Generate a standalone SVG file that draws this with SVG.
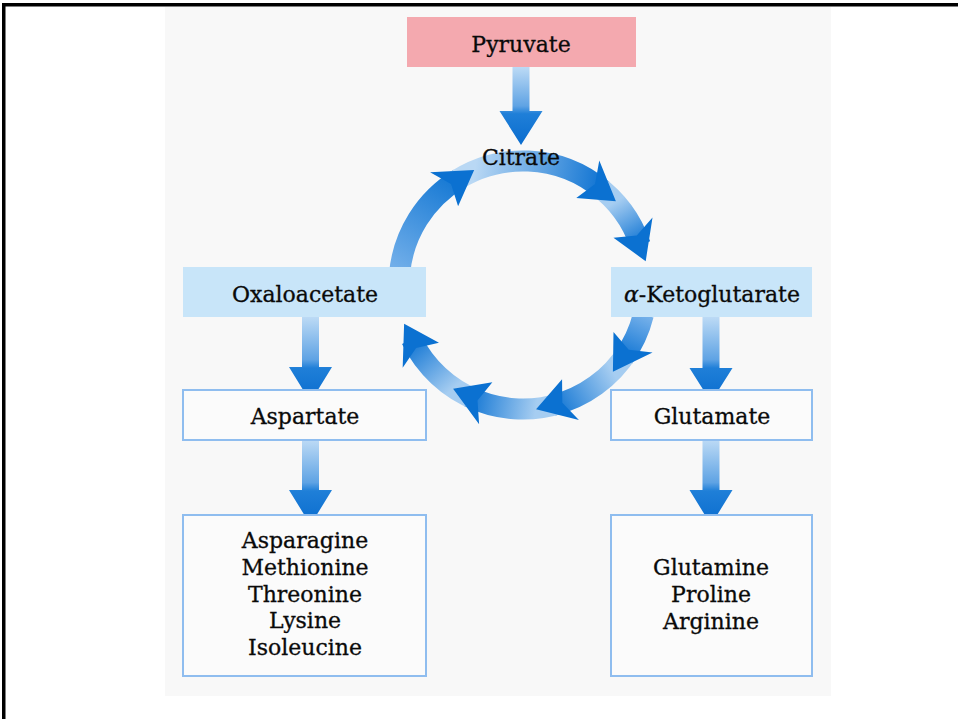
<svg xmlns="http://www.w3.org/2000/svg" xmlns:xlink="http://www.w3.org/1999/xlink" width="958" height="719" viewBox="0 0 958 719">
  <style>
    .lbl { font-family: "DejaVu Serif", "Liberation Serif", serif; font-size: 22px; fill: #0a0a0a; stroke: #0a0a0a; stroke-width: 0.3; text-anchor: middle; }
    .pink { fill: #f4a9af; }
    .cyan { fill: #c8e5f9; }
    .plain { fill: #fbfbfb; stroke: #8fbdef; stroke-width: 2; }
    .ring { fill: none; stroke-width: 21; }
    .head { fill: #0b71d1; }
  </style>
  <defs>
    <!-- vertical fade used by the straight arrows -->
    <linearGradient id="down" x1="0" y1="0" x2="0" y2="1">
      <stop offset="0" stop-color="#bcdaf5"/>
      <stop offset="0.5" stop-color="#5fa3e4"/>
      <stop offset="0.6" stop-color="#1f7fd8"/>
      <stop offset="1" stop-color="#0a6cce"/>
    </linearGradient>
    <!-- fades along each arc of the cycle, light at the start, dark at the arrowhead -->
    <linearGradient id="g1" gradientUnits="userSpaceOnUse" x1="399.5" y1="274.2" x2="459.1" y2="178.7">
      <stop offset="0" stop-color="#74b0ea"/><stop offset="1" stop-color="#1377d3"/>
    </linearGradient>
    <linearGradient id="g2" gradientUnits="userSpaceOnUse" x1="474.6" y1="170.9" x2="602.7" y2="190.0">
      <stop offset="0" stop-color="#b9d8f4"/><stop offset="1" stop-color="#0d72d2"/>
    </linearGradient>
    <linearGradient id="g3" gradientUnits="userSpaceOnUse" x1="615.1" y1="202.0" x2="640.2" y2="244.6">
      <stop offset="0" stop-color="#a6cdf1"/><stop offset="1" stop-color="#0f74d3"/>
    </linearGradient>
    <linearGradient id="g4" gradientUnits="userSpaceOnUse" x1="643.3" y1="315.0" x2="623.3" y2="357.9">
      <stop offset="0" stop-color="#74b0ea"/><stop offset="1" stop-color="#0f74d3"/>
    </linearGradient>
    <linearGradient id="g5" gradientUnits="userSpaceOnUse" x1="612.2" y1="371.1" x2="553.0" y2="405.3">
      <stop offset="0" stop-color="#a6cdf1"/><stop offset="1" stop-color="#0f74d3"/>
    </linearGradient>
    <linearGradient id="g6" gradientUnits="userSpaceOnUse" x1="536.0" y1="408.3" x2="468.6" y2="396.5">
      <stop offset="0" stop-color="#a6cdf1"/><stop offset="1" stop-color="#0f74d3"/>
    </linearGradient>
    <linearGradient id="g7" gradientUnits="userSpaceOnUse" x1="453.7" y1="387.8" x2="411.5" y2="339.4">
      <stop offset="0" stop-color="#a6cdf1"/><stop offset="1" stop-color="#0f74d3"/>
    </linearGradient>
    <!-- swept-back arrowhead on the cycle, drawn for angle 0 around centre (523,285) -->
    <polygon id="cyc-head" class="head" points="648,285 620.8,256 644.1,258.2 663,243.5"/>
  </defs>

  <!-- page frame -->
  <rect x="0" y="0" width="958" height="719" fill="#ffffff"/>
  <rect x="2" y="3" width="956" height="3.5" fill="#000000"/>
  <rect x="2" y="3" width="3.5" height="716" fill="#000000"/>

  <!-- figure panel -->
  <rect x="165" y="7" width="666" height="689" fill="#f8f8f8"/>

  <!-- connectors -->
  <g id="connectors">
    <g id="cycle">
      <path class="ring" stroke="url(#g1)" d="M399.5,274.2 A124,124 0 0 1 459.1,178.7"/>
      <path class="ring" stroke="url(#g2)" d="M451.9,183.4 A124,124 0 0 1 602.7,190.0"/>
      <path class="ring" stroke="url(#g3)" d="M595.9,184.7 A124,124 0 0 1 640.2,244.6"/>
      <path class="ring" stroke="url(#g4)" d="M643.3,315.0 A124,124 0 0 1 623.3,357.9"/>
      <path class="ring" stroke="url(#g5)" d="M628.2,350.7 A124,124 0 0 1 553.0,405.3"/>
      <path class="ring" stroke="url(#g6)" d="M561.3,402.9 A124,124 0 0 1 468.6,396.5"/>
      <path class="ring" stroke="url(#g7)" d="M476.5,400.0 A124,124 0 0 1 411.5,339.4"/>
      <use xlink:href="#cyc-head" transform="rotate(-113 523 285)"/>
      <use xlink:href="#cyc-head" transform="rotate(-42 523 285)"/>
      <use xlink:href="#cyc-head" transform="rotate(-11 523 285)"/>
      <use xlink:href="#cyc-head" transform="rotate(44 523 285)"/>
      <use xlink:href="#cyc-head" transform="rotate(84 523 285)"/>
      <use xlink:href="#cyc-head" transform="rotate(124 523 285)"/>
      <use xlink:href="#cyc-head" transform="rotate(162 523 285)"/>
    </g>
    <!-- straight arrows -->
    <path fill="url(#down)" d="M512.5,67 H529.5 V111 H542.5 L521,145 L499.5,111 H512.5 Z"/>
    <path fill="url(#down)" d="M302,317 H319 V367 H332 L310.5,402 L289,367 H302 Z"/>
    <path fill="url(#down)" d="M302,440 H319 V490 H332 L310.5,525 L289,490 H302 Z"/>
    <path fill="url(#down)" d="M702.5,317 H719.5 V368 H732.5 L711,402 L689.5,368 H702.5 Z"/>
    <path fill="url(#down)" d="M702.5,440 H719.5 V490 H732.5 L711,525 L689.5,490 H702.5 Z"/>
  </g>

  <!-- nodes -->
  <g id="pyruvate">
    <rect class="pink" x="407" y="17" width="229" height="50"/>
    <text class="lbl" x="521" y="52">Pyruvate</text>
  </g>
  <g id="citrate">
    <text class="lbl" x="521" y="165">Citrate</text>
  </g>
  <g id="oxaloacetate">
    <rect class="cyan" x="183" y="267" width="243" height="50"/>
    <text class="lbl" x="305" y="302">Oxaloacetate</text>
  </g>
  <g id="ketoglutarate">
    <rect class="cyan" x="611" y="267" width="201" height="50"/>
    <text class="lbl" x="712" y="302"><tspan font-style="italic">α</tspan>-Ketoglutarate</text>
  </g>
  <g id="aspartate">
    <rect class="plain" x="183" y="390" width="243" height="50"/>
    <text class="lbl" x="305" y="424">Aspartate</text>
  </g>
  <g id="glutamate">
    <rect class="plain" x="611" y="390" width="201" height="50"/>
    <text class="lbl" x="712" y="424">Glutamate</text>
  </g>
  <g id="aspartate-family">
    <rect class="plain" x="183" y="515" width="243" height="161"/>
    <text class="lbl" x="305" y="548">Asparagine</text>
    <text class="lbl" x="305" y="575">Methionine</text>
    <text class="lbl" x="305" y="602">Threonine</text>
    <text class="lbl" x="305" y="628">Lysine</text>
    <text class="lbl" x="305" y="655">Isoleucine</text>
  </g>
  <g id="glutamate-family">
    <rect class="plain" x="611" y="515" width="201" height="161"/>
    <text class="lbl" x="711" y="575">Glutamine</text>
    <text class="lbl" x="711" y="602">Proline</text>
    <text class="lbl" x="711" y="629">Arginine</text>
  </g>
</svg>
